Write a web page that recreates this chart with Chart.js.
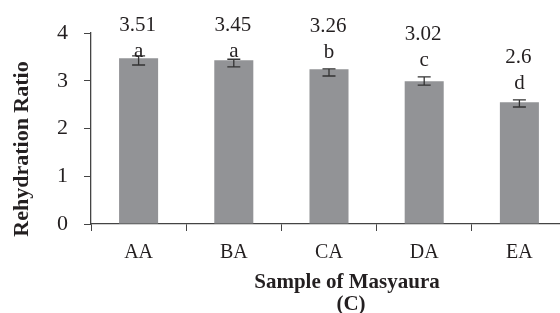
<!DOCTYPE html>
<html>
<head>
<meta charset="utf-8">
<script src="https://cdn.jsdelivr.net/npm/chart.js@4"></script>
<style>
  html, body { margin: 0; padding: 0; background: #fff; overflow: hidden; }
  #wrap { width: 570px; height: 313px; position: relative; }
</style>
</head>
<body>
<div id="wrap"><canvas id="chart"></canvas></div>
<script>
// datos
const samples = ['AA', 'BA', 'CA', 'DA', 'EA'];
const ratios = [3.47, 3.43, 3.24, 2.99, 2.55];
const errLow = [3.33, 3.29, 3.10, 2.91, 2.45];
const errHigh = [3.52, 3.45, 3.25, 3.08, 2.60];
const valueText = ['3.51', '3.45', '3.26', '3.02', '2.6'];
const groupLetters = ['a', 'a', 'b', 'c', 'd'];
const yTicks = [0, 1, 2, 3, 4];

const SERIF = '"Liberation Serif", "Times New Roman", serif';
const INK = '#231f20';

// barras de error, letras y valores sobre cada barra
const annotate = {
  id: 'annotate',
  afterDatasetsDraw(chart) {
    const ctx = chart.ctx;
    const y = chart.scales.y;
    const meta = chart.getDatasetMeta(0);
    ctx.save();
    meta.data.forEach((bar, i) => {
      const cx = bar.x;
      const top = y.getPixelForValue(errHigh[i]);
      const bottom = y.getPixelForValue(errLow[i]);
      ctx.strokeStyle = '#333';
      ctx.lineWidth = 1.3;
      ctx.beginPath();
      ctx.moveTo(cx, top); ctx.lineTo(cx, bottom);
      ctx.moveTo(cx - 6.5, top); ctx.lineTo(cx + 6.5, top);
      ctx.moveTo(cx - 6.5, bottom); ctx.lineTo(cx + 6.5, bottom);
      ctx.stroke();

      const letterBase = Math.max(top - 11, 57);
      const valueBase = Math.max(letterBase - 26, 31);
      ctx.fillStyle = INK;
      ctx.textAlign = 'center';
      ctx.textBaseline = 'alphabetic';
      ctx.font = '21px ' + SERIF;
      ctx.fillText(groupLetters[i], cx, letterBase);
      ctx.fillText(valueText[i], cx - 1, valueBase);
    });

    // títulos de los ejes
    ctx.fillStyle = INK;
    ctx.font = 'bold 21px ' + SERIF;
    ctx.textAlign = 'center';
    ctx.fillText('Sample of Masyaura', 347, 288);
    ctx.fillText('(C)', 351, 310);
    ctx.font = 'bold 22px ' + SERIF;
    ctx.translate(28, 149);
    ctx.rotate(-Math.PI / 2);
    ctx.fillText('Rehydration Ratio', 0, 0);
    ctx.restore();
  }
};

new Chart(document.getElementById('chart'), {
  type: 'bar',
  data: {
    labels: samples,
    datasets: [{
      data: ratios,
      backgroundColor: '#929396',
      borderWidth: 0,
      barPercentage: 0.41,
      categoryPercentage: 1
    }]
  },
  options: {
    responsive: true,
    maintainAspectRatio: false,
    animation: false,
    layout: { padding: { top: 33, right: 3, left: 0, bottom: 0 } },
    plugins: { legend: { display: false }, tooltip: { enabled: false } },
    scales: {
      x: {
        afterFit: s => { s.height = 89; },
        grid: { display: true, drawOnChartArea: false, tickLength: 7, color: '#444', offset: true },
        border: { display: true, color: '#444', width: 1.3 },
        ticks: { color: INK, font: { family: SERIF, size: 20 }, padding: 10 }
      },
      y: {
        min: 0,
        max: 4,
        afterFit: s => { s.width = 91; },
        afterBuildTicks: s => { s.ticks = yTicks.map(v => ({ value: v })); },
        grid: { display: true, drawOnChartArea: false, tickLength: 7, color: '#444' },
        border: { display: true, color: '#444', width: 1.3 },
        ticks: { color: INK, font: { family: SERIF, size: 22 }, padding: 16 }
      }
    }
  },
  plugins: [annotate]
});
</script>
</body>
</html>
